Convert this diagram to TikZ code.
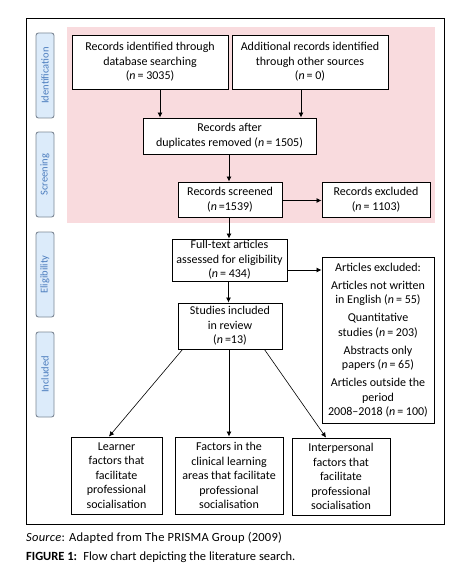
\documentclass[tikz,border=0pt]{standalone}
\usepackage{fontspec}
\setmainfont{Carlito}
\usetikzlibrary{arrows.meta}
\definecolor{pinkbg}{HTML}{F9DBDE}
\definecolor{labfill}{HTML}{DCEBFA}
\definecolor{labdraw}{HTML}{7D8896}
\definecolor{labtext}{HTML}{4C7DBE}
\tikzset{
  box/.style={draw, line width=0.9pt, fill=white, align=center, inner sep=0pt,
    font=\fontsize{12}{14.5}\selectfont},
  stagelab/.style={draw=labdraw, line width=0.9pt, fill=labfill, rounded corners=2.5pt,
    rotate=90, minimum width=85pt, minimum height=18pt, inner sep=0pt,
    text=labtext, font=\fontsize{10.5}{12}\selectfont},
  arr/.style={line width=0.8pt, -{Latex[length=5pt,width=5pt]}},
}
\newcommand{\nn}{\textit{n}}
\begin{document}
\begin{tikzpicture}[x=1pt,y=-1pt]
\useasboundingbox (0,0) rectangle (452,575);
\fill[white] (0,0) rectangle (452,575);
% outer frame
\draw[line width=0.9pt] (26,18) rectangle (444,524);
% pink region
\fill[pinkbg] (67,27) rectangle (435,223);
% stage labels
\node[stagelab] (lid) at (45,75.5) {Identification};
\node[stagelab] (lsc) at (45,174.5) {Screening};
\node[stagelab] (lel) at (45,274.5) {Eligibility};
\node[stagelab] (lin) at (45,374.5) {Included};
% boxes
\node[box, minimum width=156pt, minimum height=54pt] (b1) at (150,62)
  {Records identified through\\database searching\\(\nn\,= 3035)};
\node[box, minimum width=156pt, minimum height=54pt] (b2) at (310,62)
  {Additional records identified\\through other sources\\(\nn\,= 0)};
\node[box, minimum width=173pt, minimum height=36pt] (b3) at (229.5,136)
  {Records after\\duplicates removed (\nn\,= 1505)};
\node[box, minimum width=104pt, minimum height=35pt] (b4) at (230,199.5)
  {Records screened\\(\nn\,=1539)};
\node[box, minimum width=108pt, minimum height=35pt] (b5) at (376,199.5)
  {Records excluded\\(\nn\,= 1103)};
\node[box, minimum width=115pt, minimum height=42pt] (b6) at (229.5,260)
  {Full-text articles\\assessed for eligibility\\(\nn\,= 434)};
\node[box, minimum width=112pt, minimum height=166pt] (b7) at (378,340)
  {Articles excluded:\\[3.5pt]Articles not written\\in English (\nn\,= 55)\\[3.5pt]Quantitative\\studies (\nn\,= 203)\\[3.5pt]Abstracts only\\papers (\nn\,= 65)\\[3.5pt]Articles outside the\\period\\2008--2018 (\nn\,= 100)};
\node[box, minimum width=104pt, minimum height=46pt] (b8) at (230,326)
  {Studies included\\in review\\(\nn\,=13)};
\node[box, minimum width=91pt, minimum height=77pt] (b9) at (116.5,475.5)
  {Learner\\factors that\\facilitate\\professional\\socialisation};
\node[box, minimum width=108pt, minimum height=77pt] (b10) at (229,475.5)
  {Factors in the\\clinical learning\\areas that facilitate\\professional\\socialisation};
\node[box, minimum width=98pt, minimum height=77pt] (b11) at (341,476.5)
  {Interpersonal\\factors that\\facilitate\\professional\\socialisation};
% connectors
\draw[arr] ([xshift=10pt]b1.south) -- ([xshift=10pt]b1.south |- b3.north);
\draw[arr] ([xshift=-9pt]b2.south) -- ([xshift=-9pt]b2.south |- b3.north);
\draw[arr] ([xshift=-0.5pt]b3.south) -- ([xshift=-0.5pt]b3.south |- b4.north);
\draw[arr] ([yshift=-1pt]b4.east) -- ([yshift=-1pt]b4.east -| b5.west);
\draw[arr] ([xshift=-1pt]b4.south) -- ([xshift=-1pt]b4.south |- b6.north);
\draw[arr] ([yshift=-10pt]b6.east) -- ([yshift=-10pt]b6.east -| b7.west);
\draw[arr] ([xshift=-1pt]b6.south) -- ([xshift=-1pt]b6.south |- b8.north);
\draw[arr, line width=0.6pt] ([xshift=5pt]b8.south west) -- ([xshift=-7.5pt]b9.north);
\draw[arr] ([xshift=-1pt]b8.south) -- ([xshift=0pt]b10.north);
\draw[arr, line width=0.6pt] ([xshift=-18pt]b8.south east) -- ([xshift=-15pt]b11.north);
% caption
\node[anchor=west, inner sep=0pt, font=\fontsize{12.5}{14}\selectfont\addfontfeatures{LetterSpace=2}] (src) at (26,538)
  {\textit{Source}: Adapted from The PRISMA Group (2009)};
\node[anchor=west, inner sep=0pt, font=\fontsize{12.5}{14}\selectfont] (fig) at (26,557)
  {\textbf{FIGURE 1:}\enspace Flow chart depicting the literature search.};
\end{tikzpicture}
\end{document}
